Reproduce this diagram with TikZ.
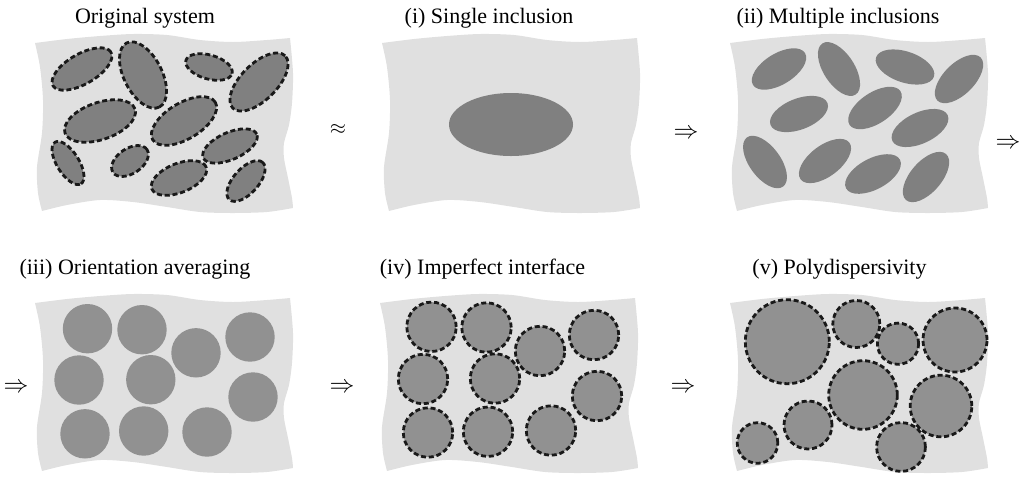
\documentclass[tikz,border=0pt]{standalone}
\usepackage{fontspec}
\setmainfont{Liberation Serif}
\definecolor{sheetgray}{RGB}{224,224,224}
\definecolor{ellgray}{RGB}{128,128,128}
\definecolor{circgray}{RGB}{145,145,145}
\definecolor{dashcol}{RGB}{25,25,25}
\tikzset{
  sheet/.style={fill=sheetgray},
  ellfill/.style={fill=ellgray},
  circfill/.style={fill=circgray},
  dashborder/.style={draw=dashcol, line width=2.8pt, dash pattern=on 5pt off 2.8pt},
  titletext/.style={anchor=base, inner sep=0pt, font=\fontsize{22}{26}\selectfont},
  relsym/.style={inner sep=0pt, font=\fontsize{23}{25}\selectfont},
}
\newcommand\drawsheet[2]{%
  \fill[sheet, shift={(#1,#2)}]
    plot[smooth] coordinates {(0,0) (32,-4) (65,-7) (98,-9) (132,-8) (165,-3) (198,-1) (232,-3) (255,-5)}
    -- plot[smooth] coordinates {(255,-5) (258,30) (257,60) (254,82) (249,100) (249,115) (253,135) (257,155) (258,165)}
    -- plot[smooth] coordinates {(258,165) (232,169) (198,170) (165,169) (132,164) (98,159) (65,157) (32,162) (7,168)}
    -- plot[smooth] coordinates {(7,168) (3,150) (2,124) (7,90) (8,57) (5,24) (0,0)}
    -- cycle;}
\newcommand\inclE[6]{\path[#6, shift={(#1,#2)}, rotate=#5] (0,0) ellipse [x radius=#3pt, y radius=#4pt];}
\newcommand\inclC[4]{\path[#4] (#1,#2) circle [radius=#3pt];}
\begin{document}
\begin{tikzpicture}[x=1pt,y=-1pt]
\useasboundingbox (0,0) rectangle (1024,483);
% sheets
\drawsheet{35}{43}
\drawsheet{382}{43}
\drawsheet{730}{43}
\drawsheet{35}{303}
\drawsheet{380}{303}
\drawsheet{730}{303}
% titles
\node[titletext] (t0) at (145,23) {Original system};
\node[titletext] (t1) at (489,23) {(i) Single inclusion};
\node[titletext] (t2) at (838,23) {(ii) Multiple inclusions};
\node[titletext] (t3) at (135,274) {(iii) Orientation averaging};
\node[titletext] (t4) at (482.5,274) {(iv) Imperfect interface};
\node[titletext] (t5) at (839.5,274) {(v) Polydispersivity};
% relation symbols
\node[relsym, font=\fontsize{21}{23}\selectfont] (s1) at (338,129) {$\approx$};
\node[relsym] (s2) at (686,134) {$\Rightarrow$};
\node[relsym] (s3) at (1008,144) {$\Rightarrow$};
\node[relsym] (s4) at (16,388) {$\Rightarrow$};
\node[relsym] (s5) at (342,388) {$\Rightarrow$};
\node[relsym] (s6) at (683,388) {$\Rightarrow$};
% panel 0: original system
\tikzset{oe/.style={ellfill, dashborder}}
\inclE{82}{69}{33.5}{15}{30}{oe}
\inclE{143}{75}{36}{19}{-63}{oe}
\inclE{209}{67}{24}{12}{-16}{oe}
\inclE{259}{82}{37}{18}{45}{oe}
\inclE{100}{121}{37}{18.5}{19}{oe}
\inclE{184}{121}{36.5}{18}{31}{oe}
\inclE{68}{163}{24.5}{11}{-58}{oe}
\inclE{130}{161}{20.5}{12.5}{34}{oe}
\inclE{230}{146}{29.3}{13.5}{24}{oe}
\inclE{179}{178}{29.3}{14.5}{22}{oe}
\inclE{246}{181}{25}{12.5}{48}{oe}
% panel 1: single inclusion
\inclE{511}{124.5}{62}{31.5}{0}{ellfill}
% panel 2: multiple inclusions
\inclE{779}{69}{30.5}{15.5}{31.6}{ellfill}
\inclE{839}{69}{30.5}{15.5}{-57}{ellfill}
\inclE{905}{67}{30.5}{15.5}{-18.5}{ellfill}
\inclE{959}{79}{30.5}{15.5}{45}{ellfill}
\inclE{799}{114}{30.5}{15.5}{21}{ellfill}
\inclE{875}{108}{30.5}{15.5}{33.5}{ellfill}
\inclE{920}{128}{30.5}{15.5}{25}{ellfill}
\inclE{765}{162}{30.5}{15.5}{-53.7}{ellfill}
\inclE{825}{161}{30.5}{15.5}{37}{ellfill}
\inclE{873}{174}{30.5}{15.5}{28}{ellfill}
\inclE{926}{177}{30.5}{15.5}{49}{ellfill}
% panel 3: orientation averaging
\inclC{87.5}{328.7}{24.7}{circfill}
\inclC{142}{329.7}{24.7}{circfill}
\inclC{196}{352.8}{24.7}{circfill}
\inclC{250}{337}{24.7}{circfill}
\inclC{79}{380}{24.7}{circfill}
\inclC{150.8}{379.7}{24.7}{circfill}
\inclC{253}{397}{24.7}{circfill}
\inclC{85}{433.8}{24.7}{circfill}
\inclC{143.7}{431}{24.7}{circfill}
\inclC{207}{432}{24.7}{circfill}
% panel 4: imperfect interface
\tikzset{dc/.style={circfill, dashborder}}
\inclC{431.5}{326.8}{24.7}{dc}
\inclC{486.5}{327.5}{24.7}{dc}
\inclC{540}{351}{24.7}{dc}
\inclC{594}{335}{24.7}{dc}
\inclC{423}{379}{24.7}{dc}
\inclC{495}{378.5}{24.7}{dc}
\inclC{597}{396}{24.7}{dc}
\inclC{428}{432.5}{24.7}{dc}
\inclC{488}{431.7}{24.7}{dc}
\inclC{551}{430.5}{24.7}{dc}
% panel 5: polydispersivity
\inclC{787.3}{341.7}{42}{dc}
\inclC{856.3}{324}{23.5}{dc}
\inclC{898}{343.7}{20.6}{dc}
\inclC{955}{340}{32}{dc}
\inclC{863}{395}{34.3}{dc}
\inclC{941}{406}{30.8}{dc}
\inclC{808}{425}{24}{dc}
\inclC{757.5}{443}{20.3}{dc}
\inclC{901}{447}{24.4}{dc}
\end{tikzpicture}
\end{document}
